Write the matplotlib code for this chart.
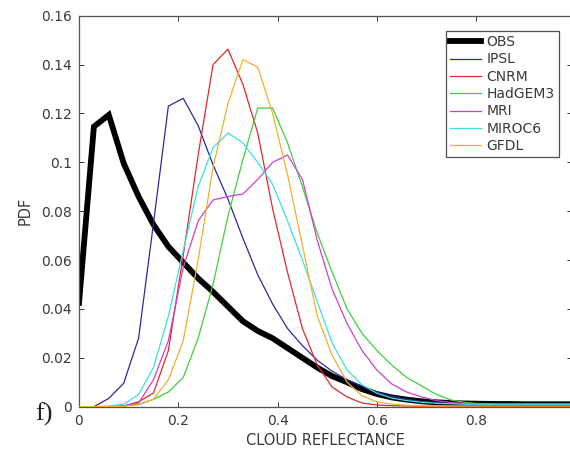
import matplotlib
matplotlib.use("Agg")
import matplotlib.pyplot as plt

# reflectance bin positions
reflectance = [0.00, 0.03, 0.06, 0.09, 0.12, 0.15, 0.18, 0.21, 0.24, 0.27,
               0.30, 0.33, 0.36, 0.39, 0.42, 0.45, 0.48, 0.51, 0.54, 0.57,
               0.60, 0.63, 0.66, 0.69, 0.72, 0.75, 0.78, 0.81, 0.84, 0.87,
               0.90, 0.93, 0.96, 0.99]

obs = [0.0425, 0.1146, 0.1194, 0.0996, 0.086, 0.0745, 0.0655, 0.059, 0.0525, 0.047,
       0.041, 0.035, 0.031, 0.028, 0.024, 0.020, 0.016, 0.0125, 0.0100, 0.0072,
       0.0052, 0.0038, 0.0029, 0.0022, 0.0018, 0.0015, 0.0013, 0.0012, 0.0011, 0.0011,
       0.0010, 0.0010, 0.0010, 0.0010]

ipsl = [0, 0, 0.0034, 0.0096, 0.028, 0.075, 0.123, 0.1262, 0.115, 0.099,
        0.085, 0.069, 0.054, 0.042, 0.032, 0.025, 0.019, 0.0145, 0.011, 0.0085,
        0.006, 0.0042, 0.003, 0.0022, 0.0017, 0.0013, 0.0011, 0.001, 0.001, 0.001,
        0.001, 0.001, 0.001, 0.001]

cnrm = [0, 0, 0, 0.0003, 0.002, 0.0056, 0.023, 0.062, 0.103, 0.140,
        0.1463, 0.132, 0.112, 0.081, 0.055, 0.032, 0.017, 0.008, 0.004, 0.0015,
        0.0007, 0.0004, 0.0003, 0.0002, 0.0002, 0.0002, 0.0002, 0.0002, 0.0002, 0.0002,
        0.0002, 0.0002, 0.0002, 0.0002]

hadgem3 = [0, 0, 0, 0.0003, 0.001, 0.003, 0.006, 0.012, 0.028, 0.050,
           0.078, 0.101, 0.1222, 0.1222, 0.108, 0.090, 0.071, 0.055, 0.040, 0.030,
           0.023, 0.017, 0.012, 0.0085, 0.005, 0.0027, 0.0017, 0.0012, 0.001, 0.001,
           0.001, 0.001, 0.001, 0.001]

mri = [0, 0, 0, 0.0003, 0.0015, 0.011, 0.027, 0.057, 0.076, 0.0846,
       0.086, 0.087, 0.093, 0.100, 0.103, 0.093, 0.068, 0.048, 0.034, 0.023,
       0.015, 0.0093, 0.006, 0.004, 0.0025, 0.0017, 0.0013, 0.0011, 0.001, 0.001,
       0.001, 0.001, 0.001, 0.001]

miroc6 = [0, 0, 0.0003, 0.001, 0.005, 0.016, 0.037, 0.064, 0.090, 0.106,
          0.112, 0.108, 0.100, 0.091, 0.076, 0.060, 0.043, 0.026, 0.015, 0.009,
          0.0055, 0.0035, 0.0025, 0.0018, 0.0014, 0.0012, 0.001, 0.001, 0.001, 0.001,
          0.001, 0.001, 0.001, 0.001]

gfdl = [0, 0, 0, 0.0002, 0.0008, 0.003, 0.011, 0.027, 0.060, 0.098,
        0.124, 0.142, 0.139, 0.120, 0.095, 0.066, 0.037, 0.021, 0.010, 0.0045,
        0.002, 0.001, 0.0006, 0.0004, 0.0003, 0.0003, 0.0003, 0.0003, 0.0003, 0.0003,
        0.0003, 0.0003, 0.0003, 0.0003]

models = [
    ("IPSL", ipsl, "#2b2b9c"),
    ("CNRM", cnrm, "#e02a2a"),
    ("HadGEM3", hadgem3, "#3fcf3f"),
    ("MRI", mri, "#cf3fcf"),
    ("MIROC6", miroc6, "#3fdfdf"),
    ("GFDL", gfdl, "#f0b030"),
]

text_color = "#3a3a3a"
axis_color = "#555555"

fig = plt.figure(figsize=(5.70, 4.58), dpi=100)
# axes runs slightly past the right edge of the figure
ax = fig.add_axes([79 / 570, 51.3 / 458, 493 / 570, 391 / 458])

ax.plot(reflectance, obs, color="black", linewidth=4.2, label="OBS",
        solid_joinstyle="miter", zorder=2)
for name, vals, col in models:
    ax.plot(reflectance, vals, color=col, linewidth=0.9, label=name, zorder=3)

ax.set_xlim(0, 0.993)
ax.set_ylim(0, 0.16)
ax.set_xticks([0, 0.2, 0.4, 0.6, 0.8])
ax.set_xticklabels(["0", "0.2", "0.4", "0.6", "0.8"])
ax.set_yticks([0, 0.02, 0.04, 0.06, 0.08, 0.1, 0.12, 0.14, 0.16])
ax.set_yticklabels(["0", "0.02", "0.04", "0.06", "0.08", "0.1", "0.12", "0.14", "0.16"])

ax.tick_params(direction="in", length=3.6, width=0.7, color="#333333",
               top=True, right=True, labelsize=10, labelcolor=text_color, pad=5)
for sp in ax.spines.values():
    sp.set_color(axis_color)
    sp.set_linewidth(0.9)

ax.set_xlabel("CLOUD REFLECTANCE", fontsize=10.5, color=text_color, labelpad=4)
ax.set_ylabel("PDF", fontsize=10.5, color=text_color, labelpad=6)

leg = ax.legend(loc="upper left", bbox_to_anchor=(367 / 493, 0.961),
                fontsize=10, frameon=True, fancybox=False, handlelength=2.2,
                handletextpad=0.4, borderpad=0.3, labelspacing=0.24,
                borderaxespad=0)
leg.get_frame().set_edgecolor("#222222")
leg.get_frame().set_linewidth(0.9)
for t in leg.get_texts():
    t.set_color(text_color)

fig.text(35 / 570, 1 - 414 / 458, "f)", fontsize=19, family="Liberation Serif",
         color="#222222", ha="left", va="center")

fig.savefig("out.png", dpi=100)
